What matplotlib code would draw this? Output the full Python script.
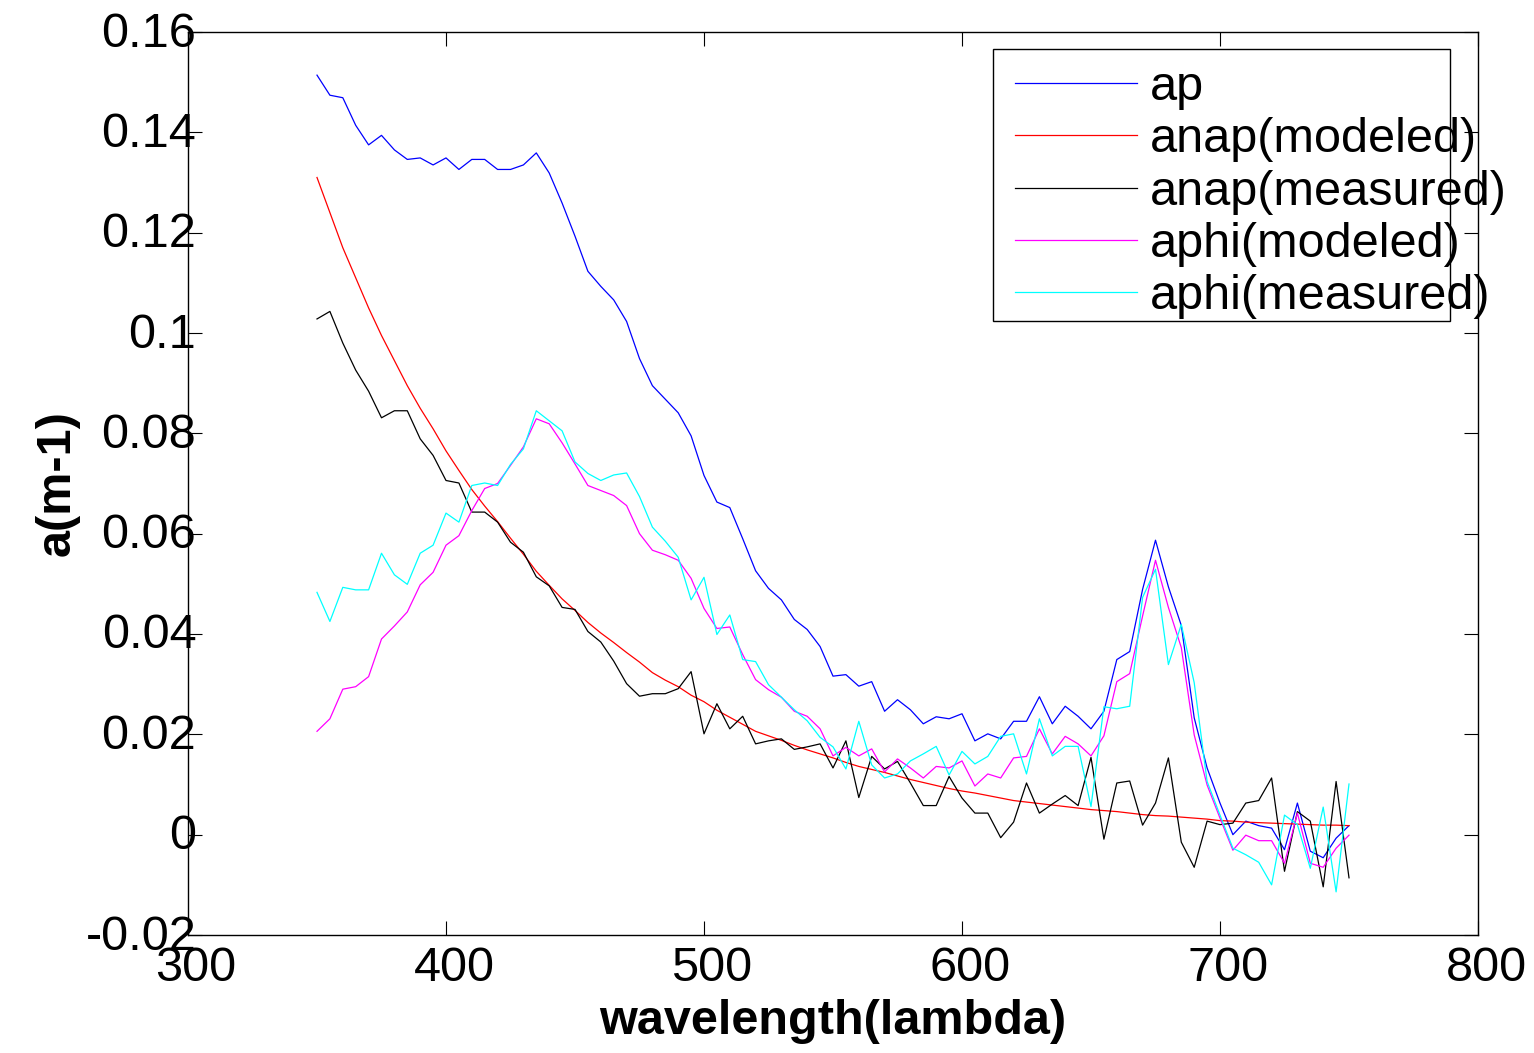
import numpy as np
import matplotlib
matplotlib.use("Agg")
import matplotlib.pyplot as plt
import matplotlib.transforms as mtrans
from matplotlib.patches import Rectangle

plt.rcParams["font.family"] = ["Liberation Sans", "DejaVu Sans"]

wavelength = list(range(350, 755, 5))

ap = [0.1514, 0.1474, 0.1469, 0.1414, 0.1375, 0.1394, 0.1365, 0.1346, 0.1349, 0.1335,
      0.1349, 0.1326, 0.1346, 0.1346, 0.1326, 0.1326, 0.1335, 0.1359, 0.1319, 0.1259,
      0.1193, 0.1123, 0.1093, 0.1066, 0.1023, 0.0949, 0.0895, 0.0868, 0.0841, 0.0795,
      0.0716, 0.0663, 0.0652, 0.0590, 0.0526, 0.0491, 0.0468, 0.0429, 0.0409, 0.0375,
      0.0316, 0.0319, 0.0296, 0.0305, 0.0246, 0.0269, 0.0249, 0.0221, 0.0235, 0.0231,
      0.0241, 0.0187, 0.0201, 0.0191, 0.0226, 0.0226, 0.0275, 0.0221, 0.0256, 0.0236,
      0.0211, 0.0246, 0.0349, 0.0365, 0.0489, 0.0587, 0.0494, 0.0417, 0.0233, 0.0133,
      0.0063, 0.0000, 0.0027, 0.0018, 0.0013, -0.0030, 0.0063, -0.0033, -0.0046, -0.0007,
      0.0018]

anap_model = [0.1310, 0.1240, 0.1170, 0.1110, 0.1050, 0.0995, 0.0945, 0.0895, 0.0850, 0.0809,
              0.0765, 0.0726, 0.0688, 0.0655, 0.0624, 0.0591, 0.0559, 0.0525, 0.0497, 0.0470,
              0.0447, 0.0423, 0.0402, 0.0383, 0.0363, 0.0344, 0.0323, 0.0308, 0.0295, 0.0278,
              0.0265, 0.0248, 0.0234, 0.0220, 0.0206, 0.0197, 0.0188, 0.0178, 0.0169, 0.0161,
              0.0153, 0.0144, 0.0136, 0.0130, 0.0124, 0.0117, 0.0110, 0.0104, 0.0098, 0.0092,
              0.0087, 0.0083, 0.0078, 0.0073, 0.0068, 0.0065, 0.0062, 0.0059, 0.0056, 0.0053,
              0.0050, 0.0048, 0.0046, 0.0043, 0.0040, 0.0038, 0.0037, 0.0035, 0.0033, 0.0031,
              0.0028, 0.0027, 0.0025, 0.0024, 0.0023, 0.0022, 0.0021, 0.0020, 0.0019, 0.0019,
              0.0018]

anap_meas = [0.1028, 0.1043, 0.0980, 0.0926, 0.0884, 0.0831, 0.0845, 0.0845, 0.0789, 0.0756,
             0.0706, 0.0701, 0.0643, 0.0643, 0.0623, 0.0583, 0.0563, 0.0514, 0.0496, 0.0453,
             0.0449, 0.0405, 0.0384, 0.0346, 0.0301, 0.0276, 0.0281, 0.0281, 0.0291, 0.0325,
             0.0201, 0.0261, 0.0211, 0.0236, 0.0181, 0.0187, 0.0191, 0.0170, 0.0175, 0.0181,
             0.0133, 0.0187, 0.0074, 0.0156, 0.0131, 0.0146, 0.0103, 0.0058, 0.0058, 0.0116,
             0.0073, 0.0043, 0.0043, -0.0006, 0.0025, 0.0103, 0.0043, 0.0061, 0.0078, 0.0058,
             0.0154, -0.0009, 0.0103, 0.0107, 0.0019, 0.0063, 0.0153, -0.0015, -0.0065, 0.0027,
             0.0020, 0.0023, 0.0063, 0.0068, 0.0113, -0.0073, 0.0046, 0.0027, -0.0104, 0.0106,
             -0.0086]

aphi_model = [0.0206, 0.0231, 0.0290, 0.0295, 0.0315, 0.0390, 0.0416, 0.0444, 0.0498, 0.0523,
              0.0577, 0.0596, 0.0646, 0.0690, 0.0700, 0.0736, 0.0773, 0.0829, 0.0819, 0.0781,
              0.0739, 0.0696, 0.0686, 0.0676, 0.0656, 0.0600, 0.0567, 0.0558, 0.0547, 0.0511,
              0.0451, 0.0411, 0.0414, 0.0359, 0.0309, 0.0289, 0.0274, 0.0246, 0.0236, 0.0211,
              0.0157, 0.0174, 0.0157, 0.0171, 0.0125, 0.0151, 0.0133, 0.0113, 0.0136, 0.0133,
              0.0147, 0.0097, 0.0121, 0.0113, 0.0153, 0.0156, 0.0211, 0.0161, 0.0196, 0.0181,
              0.0157, 0.0197, 0.0305, 0.0321, 0.0436, 0.0547, 0.0453, 0.0373, 0.0199, 0.0099,
              0.0033, -0.0031, -0.0001, -0.0012, -0.0012, -0.0057, 0.0043, -0.0057, -0.0065, -0.0027,
              -0.0001]

aphi_meas = [0.0483, 0.0425, 0.0493, 0.0488, 0.0488, 0.0561, 0.0518, 0.0499, 0.0561, 0.0577,
             0.0641, 0.0623, 0.0696, 0.0701, 0.0696, 0.0738, 0.0769, 0.0845, 0.0825, 0.0805,
             0.0743, 0.0720, 0.0706, 0.0717, 0.0721, 0.0674, 0.0613, 0.0585, 0.0553, 0.0468,
             0.0513, 0.0399, 0.0438, 0.0349, 0.0345, 0.0299, 0.0274, 0.0249, 0.0227, 0.0194,
             0.0175, 0.0131, 0.0226, 0.0139, 0.0113, 0.0121, 0.0147, 0.0161, 0.0176, 0.0119,
             0.0166, 0.0141, 0.0156, 0.0196, 0.0201, 0.0121, 0.0231, 0.0157, 0.0176, 0.0176,
             0.0056, 0.0255, 0.0251, 0.0256, 0.0473, 0.0529, 0.0339, 0.0419, 0.0303, 0.0106,
             0.0039, -0.0027, -0.0040, -0.0055, -0.0100, 0.0039, 0.0020, -0.0067, 0.0055, -0.0114,
             0.0101]

series = [
    (ap, "ap", "#0000ff"),
    (anap_model, "anap(modeled)", "#ff0000"),
    (anap_meas, "anap(measured)", "#000000"),
    (aphi_model, "aphi(modeled)", "#ff00ff"),
    (aphi_meas, "aphi(measured)", "#00ffff"),
]

xticks = [300, 400, 500, 600, 700, 800]
yticks = [-0.02, 0, 0.02, 0.04, 0.06, 0.08, 0.1, 0.12, 0.14, 0.16]
ytick_labels = ["-0.02", "0", "0.02", "0.04", "0.06", "0.08", "0.1", "0.12", "0.14", "0.16"]

W, H = 1534, 1053
fig = plt.figure(figsize=(W / 100, H / 100), dpi=100)
ax = fig.add_axes([188 / W, 1 - 935 / H, 1290 / W, 903 / H])

for vals, lab, col in series:
    ax.plot(wavelength, vals, color=col, lw=0.9, label=lab)

ax.set_xlim(300, 800)
ax.set_ylim(-0.02, 0.16)
ax.set_xticks(xticks)
ax.set_xticklabels([str(t) for t in xticks])
ax.set_yticks(yticks)
ax.set_yticklabels(ytick_labels)
ax.tick_params(direction="in", length=10, width=0.8, top=True, right=True,
               labelsize=35)
ax.tick_params(axis="y", pad=-6)
ax.tick_params(axis="x", pad=8)
for sp in ax.spines.values():
    sp.set_linewidth(1.0)

# MATLAB-ish label offsets
xoff = mtrans.ScaledTranslation(8 / 100, 0, fig.dpi_scale_trans)
for t in ax.get_xticklabels():
    t.set_transform(t.get_transform() + xoff)
yoff = mtrans.ScaledTranslation(0, 3 / 100, fig.dpi_scale_trans)
for t in ax.get_yticklabels():
    t.set_transform(t.get_transform() + yoff)

ax.set_xlabel("wavelength(lambda)", fontsize=35, fontweight="bold", labelpad=6)
ax.set_ylabel("a(m-1)", fontsize=35, fontweight="bold", labelpad=4)

leg = ax.legend(loc="upper left", bbox_to_anchor=(1015 / W, 1 - 65 / H),
                bbox_transform=fig.transFigure, frameon=False, fontsize=35,
                handlelength=2.5, handletextpad=0.28, labelspacing=0.15,
                borderpad=0, borderaxespad=0)
for ln in leg.get_lines():
    ln.set_linewidth(0.9)

fig.patches.append(Rectangle((993 / W, 1 - 321 / H), (1450 - 993) / W, (321 - 49) / H,
                             transform=fig.transFigure, fill=False, ec="black",
                             lw=1.0, zorder=5))

fig.savefig("out.png", dpi=100, facecolor="white")
